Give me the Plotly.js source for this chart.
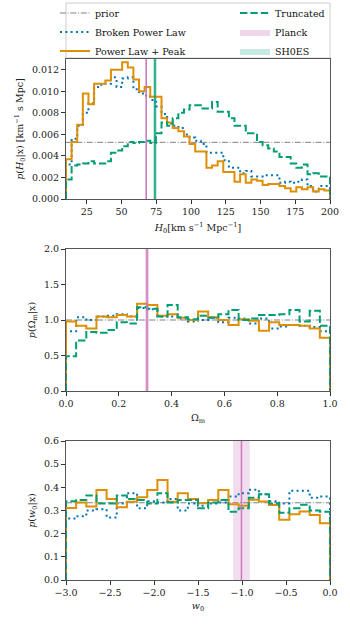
<!DOCTYPE html>
<html><head><meta charset="utf-8">
<script src="https://cdn.plot.ly/plotly-3.0.1.min.js"></script>
<style>html,body{margin:0;padding:0;background:#fff}</style>
</head><body><div id="chart" style="width:350px;height:625px"></div>
<script>
// ---------- data ----------
const h0Range = [10, 200];
const h0Prior = 1 / 190;
const h0BrokenPowerLaw = [0.0032,0.0056,0.0068,0.0080,0.0089,0.0104,0.0106,0.0107,0.0113,0.0104,
  0.0112,0.0113,0.0102,0.0098,0.0096,0.0092,0.0086,0.0079,0.0070,0.0068,
  0.0066,0.0060,0.0057,0.0054,0.0051,0.0043,0.0043,0.0043,0.0036,0.0029,
  0.0029,0.0024,0.0026,0.0021,0.0021,0.0022,0.0022,0.0022,0.0015,0.0016,
  0.0015,0.0016,0.0018,0.0012,0.0007,0.0012,0.0012];
const h0PowerLawPeak = [0.0037,0.0053,0.0069,0.0098,0.0088,0.0107,0.0107,0.0110,0.0120,0.0120,
  0.0127,0.0122,0.0111,0.0100,0.0104,0.0095,0.0095,0.0075,0.0071,0.0066,
  0.0063,0.0058,0.0051,0.0044,0.0044,0.0029,0.0031,0.0035,0.0025,0.0025,
  0.0016,0.0023,0.0015,0.0018,0.0017,0.0013,0.0014,0.0014,0.0012,0.0010,
  0.0007,0.0011,0.0009,0.0011,0.0007,0.0009,0.0008];
const h0Truncated = [0.0018,0.0031,0.0032,0.0033,0.0035,0.0033,0.0033,0.0035,0.0043,0.0045,
  0.0049,0.0053,0.0052,0.0053,0.0054,0.0052,0.0061,0.0071,0.0068,0.0075,
  0.0080,0.0083,0.0087,0.0087,0.0084,0.0084,0.0090,0.0081,0.0081,0.0075,
  0.0068,0.0068,0.0061,0.0061,0.0053,0.0050,0.0047,0.0044,0.0039,0.0039,
  0.0033,0.0029,0.0032,0.0023,0.0024,0.0021,0.0021];
const h0Planck = [67.74, 0.46];
const h0Shoes = [74.03, 1.42];
const h0YMax = 0.0130;

const omRange = [0, 1];
const omPrior = 1;
const omBrokenPowerLaw = [0.84,1.04,1.00,1.05,1.06,1.08,1.05,1.17,1.15,1.05,1.05,1.02,0.98,1.00,1.03,0.97,1.03,1.02,0.95,1.02,0.88,0.91,0.93,0.92,0.90,0.84];
const omPowerLawPeak = [0.98,0.92,0.88,1.05,1.04,1.07,1.05,1.23,1.21,1.06,1.08,1.03,1.00,1.12,1.04,1.00,0.93,1.01,0.99,0.85,0.97,0.93,0.93,0.92,0.88,0.75];
const omTruncated = [0.49,0.71,0.83,0.82,0.86,0.97,0.95,1.18,1.16,1.05,1.21,1.04,1.01,1.06,1.03,1.08,1.14,1.00,1.02,1.07,1.07,1.08,1.14,0.98,1.13,0.92];
const omPlanck = [0.307, 0.008];
const omYMax = 2.0;

const w0Range = [-3, 0];
const w0Prior = 1 / 3;
const w0BrokenPowerLaw = [0.265,0.275,0.300,0.305,0.270,0.330,0.375,0.310,0.340,0.335,0.350,0.300,0.330,0.320,0.330,0.335,0.360,0.375,0.390,0.370,0.340,0.330,0.385,0.385,0.355,0.360];
const w0PowerLawPeak = [0.311,0.335,0.317,0.389,0.350,0.314,0.338,0.357,0.389,0.432,0.338,0.374,0.350,0.331,0.345,0.389,0.327,0.320,0.346,0.339,0.324,0.260,0.284,0.296,0.281,0.245];
const w0Truncated = [0.340,0.345,0.365,0.330,0.330,0.365,0.350,0.345,0.330,0.375,0.335,0.345,0.345,0.310,0.335,0.345,0.295,0.310,0.355,0.370,0.330,0.290,0.310,0.325,0.300,0.295];
const w0Planck = [-1.006, 0.095];
const w0YMax = 0.6;

const seriesNames = ['Broken Power Law', 'Power Law + Peak', 'Truncated'];

// ---------- styles ----------
const C_BLUE = '#0173B2', C_ORANGE = '#DE8F05', C_GREEN = '#029E73', C_PINK = '#CC78BC', C_GRAY = '#808080';
const FONT = 'DejaVu Serif';

function stepXY(range, vals) {
  const n = vals.length, w = (range[1] - range[0]) / n;
  const xs = [range[0]], ys = [0];
  for (let i = 0; i < n; i++) { xs.push(range[0] + i * w); ys.push(vals[i]); }
  xs.push(range[1]); ys.push(vals[n - 1]);
  xs.push(range[1]); ys.push(0);
  return [xs, ys];
}

const traces = [];
function panel(idx, range, prior, series, bands, ymax, legend) {
  const xa = idx === 1 ? 'x' : 'x' + idx, ya = idx === 1 ? 'y' : 'y' + idx;
  bands.forEach(b => {
    const lo = b.v[0] - b.v[1], hi = b.v[0] + b.v[1];
    traces.push({type: 'scatter', mode: 'lines', x: [lo, hi, hi, lo, lo], y: [0, 0, ymax, ymax, 0],
      fill: 'toself', fillcolor: b.fill, line: {width: 0}, xaxis: xa, yaxis: ya,
      name: b.name, showlegend: legend, legend: 'legend2', legendrank: b.rank, hoverinfo: 'skip'});
  });
  traces.push({type: 'scatter', mode: 'lines', x: range, y: [prior, prior], xaxis: xa, yaxis: ya,
    line: {color: C_GRAY, width: 1, dash: '6px,1.7px,1px,1.7px'}, name: 'prior', showlegend: legend,
    legend: 'legend', legendrank: 1});
  const styles = [
    {color: C_BLUE, width: 2, dash: '2px,3.3px'},
    {color: C_ORANGE, width: 2, dash: 'solid'},
    {color: C_GREEN, width: 2, dash: '7.4px,3px'}];
  const legends = ['legend', 'legend', 'legend2'];
  const ranks = [2, 3, 1];
  series.forEach((s, i) => {
    const [xs, ys] = stepXY(range, s);
    traces.push({type: 'scatter', mode: 'lines', x: xs, y: ys, xaxis: xa, yaxis: ya,
      line: Object.assign({shape: 'hv'}, styles[i]), name: seriesNames[i], showlegend: legend,
      legend: legends[i], legendrank: ranks[i]});
  });
  bands.forEach(b => {
    traces.push({type: 'scatter', mode: 'lines', x: [b.v[0], b.v[0]], y: [0, ymax], xaxis: xa, yaxis: ya,
      line: {color: b.line, width: 1.5}, showlegend: false, hoverinfo: 'skip'});
  });
}

panel(1, h0Range, h0Prior, [h0BrokenPowerLaw, h0PowerLawPeak, h0Truncated],
  [{v: h0Planck, name: 'Planck', fill: 'rgba(204,120,188,0.30)', line: C_PINK, rank: 2},
   {v: h0Shoes, name: 'SH0ES', fill: 'rgba(2,158,115,0.22)', line: C_GREEN, rank: 3}], h0YMax, true);
panel(2, omRange, omPrior, [omBrokenPowerLaw, omPowerLawPeak, omTruncated],
  [{v: omPlanck, name: 'Planck', fill: 'rgba(204,120,188,0.30)', line: C_PINK, rank: 2}], omYMax, false);
panel(3, w0Range, w0Prior, [w0BrokenPowerLaw, w0PowerLawPeak, w0Truncated],
  [{v: w0Planck, name: 'Planck', fill: 'rgba(204,120,188,0.25)', line: C_PINK, rank: 2}], w0YMax, false);

// ---------- layout ----------
const W = 350, H = 625, ML = 66, MR = 20, MT = 59, MB = 45;
const PH = H - MT - MB, PW = W - ML - MR;
const dom = (top, bot) => [(H - MB - bot) / PH, (H - MB - top) / PH];
const py = (pix) => (H - MB - pix) / PH;   // pixel row -> paper y
const px = (pix) => (pix - ML) / PW;       // pixel col -> paper x

const tickFont = {family: FONT, size: 9.5, color: '#222'};
const titleFont = {family: FONT, size: 9.5, color: '#222'};
function ax(extra) {
  return Object.assign({showline: true, mirror: true, linecolor: '#555', linewidth: 1,
    ticks: 'outside', ticklen: 4, tickwidth: 1, tickcolor: '#333', showgrid: false, zeroline: false,
    tickfont: tickFont, fixedrange: true, automargin: false}, extra);
}
const legendBase = {orientation: 'h', yanchor: 'top', xanchor: 'left', bgcolor: 'rgba(0,0,0,0)',
  borderwidth: 0, font: {family: FONT, size: 9.5, color: '#111'}, tracegroupgap: 0, itemwidth: 30,
  traceorder: 'normal', entrywidthmode: 'pixels', entrywidth: 320};

const layout = {
  width: W, height: H, margin: {l: ML, r: MR, t: MT, b: MB, pad: 0, autoexpand: false},
  paper_bgcolor: '#fff', plot_bgcolor: '#fff', showlegend: true,
  font: {family: FONT, size: 9.5, color: '#222'},
  legend: Object.assign({}, legendBase, {x: px(55), y: py(-1.5)}),
  legend2: Object.assign({}, legendBase, {x: px(235), y: py(-1.5)}),
  shapes: [{type: 'rect', xref: 'paper', yref: 'paper', x0: 0, x1: 1, y0: py(58), y1: py(3),
    line: {color: '#cccccc', width: 1}, fillcolor: 'rgba(255,255,255,0.9)', layer: 'below'}],
  xaxis: ax({domain: [0, 1], anchor: 'y', range: h0Range, dtick: 25, tick0: 0,
    title: {text: '<i>H</i><sub>0</sub>[km s<sup>−1</sup> Mpc<sup>−1</sup>]', font: titleFont, standoff: 7}}),
  yaxis: ax({domain: dom(59, 199), anchor: 'x', range: [0, h0YMax], dtick: 0.002, tickformat: '.3f',
    title: {text: '<i>p</i>(<i>H</i><sub>0</sub>|x) [km<sup>−1</sup> s Mpc]', font: titleFont, standoff: 6}}),
  xaxis2: ax({domain: [0, 1], anchor: 'y2', range: omRange, dtick: 0.2, tickformat: '.1f',
    title: {text: 'Ω<sub>m</sub>', font: titleFont, standoff: 5}}),
  yaxis2: ax({domain: dom(249, 391), anchor: 'x2', range: [0, omYMax], dtick: 0.5, tickformat: '.1f',
    title: {text: '<i>p</i>(Ω<sub>m</sub>|x)', font: titleFont, standoff: 6}}),
  xaxis3: ax({domain: [0, 1], anchor: 'y3', range: w0Range, dtick: 0.5, tickformat: '.1f',
    title: {text: '<i>w</i><sub>0</sub>', font: titleFont, standoff: 4}}),
  yaxis3: ax({domain: dom(441, 580), anchor: 'x3', range: [0, w0YMax], dtick: 0.1, tickformat: '.1f',
    title: {text: '<i>p</i>(<i>w</i><sub>0</sub>|x)', font: titleFont, standoff: 6}})
};

Plotly.newPlot('chart', traces, layout, {displayModeBar: false, staticPlot: true});
</script></body></html>
